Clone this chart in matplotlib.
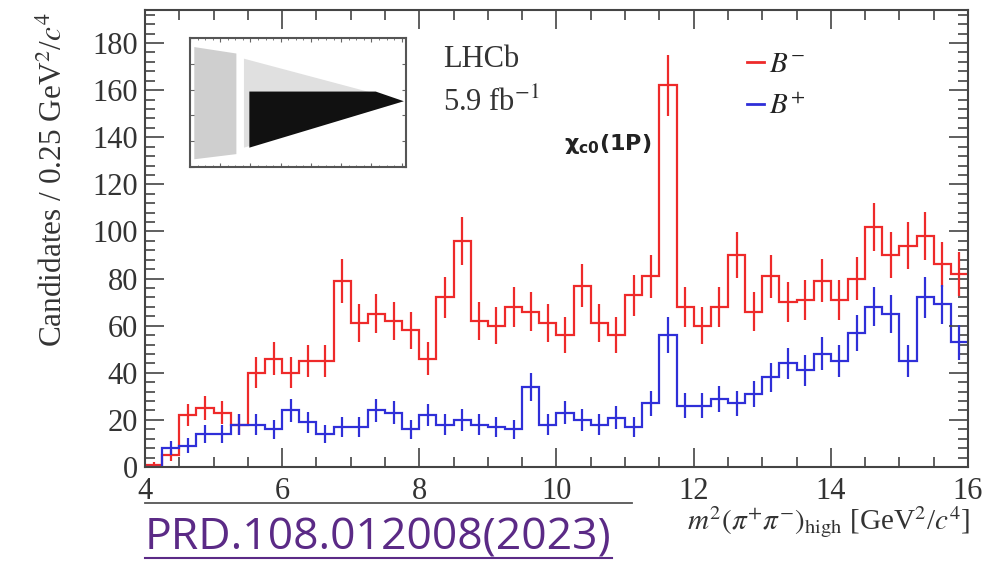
import numpy as np
import matplotlib
matplotlib.use('Agg')
import matplotlib.pyplot as plt
from matplotlib.lines import Line2D
from matplotlib.ticker import MultipleLocator

# m^2(pi+pi-)_high binning: 48 bins of 0.25 GeV^2/c^4 from 4 to 16
bin_edges = np.linspace(4.0, 16.0, 49)

# B- candidates per bin
b_minus = [1, 5, 22, 25, 23, 18, 40, 46, 40, 45, 45, 79, 61, 65, 62, 58,
           46, 72, 96, 62, 60, 68, 66, 61, 56, 77, 61, 56, 73, 81, 162, 68,
           60, 68, 90, 66, 81, 70, 71, 79, 71, 80, 102, 90, 94, 98, 86, 82]
b_minus_err = [1, 2.4, 4.8, 5.1, 4.9, 4.3, 6.5, 7, 6.5, 6.9, 6.9, 9.2, 8, 8.3, 8.1, 7.8,
               7, 8.7, 10.2, 8.1, 7.9, 8.4, 8.3, 8, 7.7, 9, 8, 7.7, 8.7, 9.2, 13, 8.4,
               7.9, 8.4, 9.7, 8.3, 9.2, 8.6, 8.6, 9.1, 8.6, 9.1, 10.3, 9.7, 9.9, 10.1, 9.5, 9.3]

# B+ candidates per bin
b_plus = [0, 8, 9, 14, 14, 18, 18, 16, 24, 19, 14, 17, 17, 24, 23, 16,
          22, 18, 20, 18, 17, 16, 34, 18, 23, 20, 18, 21, 17, 27, 56, 26,
          26, 29, 27, 31, 38, 44, 41, 48, 45, 57, 68, 65, 45, 72, 69, 53]
b_plus_err = [0, 3, 3.1, 3.8, 3.8, 4.3, 4.3, 4.1, 5, 4.5, 3.8, 4.2, 4.2, 5, 4.9, 4.1,
              4.8, 4.3, 4.6, 4.3, 4.2, 4.1, 5.9, 4.3, 4.9, 4.6, 4.3, 4.7, 4.2, 5.3, 7.6, 5.2,
              5.2, 5.5, 5.3, 5.7, 6.3, 6.7, 6.5, 7, 6.8, 7.6, 8.3, 8.2, 6.8, 8.6, 8.4, 7.4]

red = '#ee2a2a'
blue = '#2f2fd8'
frame = '#444444'

plt.rcParams['font.family'] = ['Liberation Serif', 'DejaVu Serif']
plt.rcParams['mathtext.fontset'] = 'stix'

fig = plt.figure(figsize=(9.94, 5.61), dpi=100)
ax = fig.add_axes([0.1459, 0.1676, 0.8279, 0.8144])

centers = 0.5 * (bin_edges[1:] + bin_edges[:-1])
ax.stairs(b_minus, bin_edges, color=red, lw=1.6, baseline=None)
ax.errorbar(centers, b_minus, yerr=b_minus_err, fmt='none', ecolor=red, elinewidth=1.6)
ax.stairs(b_plus, bin_edges, color=blue, lw=1.6, baseline=None)
ax.errorbar(centers, b_plus, yerr=b_plus_err, fmt='none', ecolor=blue, elinewidth=1.6)

ax.set_xlim(4, 16)
ax.set_ylim(0, 194)
ax.xaxis.set_major_locator(MultipleLocator(2))
ax.xaxis.set_minor_locator(MultipleLocator(0.5))
ax.yaxis.set_major_locator(MultipleLocator(20))
ax.yaxis.set_minor_locator(MultipleLocator(4))
ax.tick_params(which='both', direction='in', top=True, right=True, color=frame,
               labelsize=22, labelcolor='#333333', width=1.2)
ax.tick_params(which='major', length=14)
ax.tick_params(which='minor', length=7)
ax.tick_params(axis='y', pad=5)
ax.tick_params(axis='x', pad=7)
for s in ax.spines.values():
    s.set_color(frame)
    s.set_linewidth(1.5)

ax.set_ylabel('Candidates / 0.25 GeV$^2$/$c^4$', fontsize=22.5, color='#333333', loc='top')
ax.yaxis.set_label_coords(-0.093, 0.995)
ax.text(1.003, -0.122, r'$m^2(\pi^{+}\pi^{-})_{\rm high}$ [GeV$^2$/$c^4$]',
        transform=ax.transAxes, ha='right', va='center', fontsize=21, color='#333333')

ax.text(8.35, 179, 'LHCb', fontsize=22, color='#333333', va='top')
ax.text(8.35, 161, '5.9 fb$^{-1}$', fontsize=22, color='#333333', va='top')

ax.text(10.75, 137, r'$\mathbf{\chi}_{\mathbf{c0}}$(1P)', fontsize=16, fontweight='bold',
        family='DejaVu Sans', math_fontfamily='dejavusans', ha='center', va='center',
        color='#222222')

handles = [Line2D([], [], color=red, lw=2), Line2D([], [], color=blue, lw=2)]
ax.legend(handles, ['$B^{-}$', '$B^{+}$'], loc='upper left', bbox_to_anchor=(0.71, 0.947),
          frameon=False, handlelength=0.6, handletextpad=0.15, fontsize=21,
          labelspacing=0.55, labelcolor='#222222', borderaxespad=0.2)

# inset Dalitz plot thumbnail
ins = fig.add_axes([0.1911, 0.7023, 0.2173, 0.2299])
ins.set_xlim(0, 1)
ins.set_ylim(0, 1)
ins.fill([0.02, 0.02, 0.215, 0.215], [0.06, 0.93, 0.88, 0.10], color='#cfcfcf', lw=0)
ins.fill([0.25, 0.25, 0.99], [0.15, 0.84, 0.51], color='#e0e0e0', lw=0)
ins.fill([0.275, 0.275, 0.86, 0.99], [0.15, 0.585, 0.585, 0.51], color='#111111', lw=0)
ins.xaxis.set_major_locator(MultipleLocator(0.14))
ins.yaxis.set_major_locator(MultipleLocator(0.2))
ins.xaxis.set_minor_locator(MultipleLocator(0.035))
ins.tick_params(which='both', direction='in', top=True, right=True, labelbottom=False,
                labelleft=False, color='#666666', length=3)
ins.tick_params(which='minor', length=1.5)
for s in ins.spines.values():
    s.set_color('#555555')
    s.set_linewidth(1.5)

# reference line and link text below the axis
fig.add_artist(Line2D([145 / 994, 632 / 994], [1 - 503 / 561, 1 - 503 / 561],
                      color='#555555', lw=1.3))
prd = fig.text(145 / 994, 1 - 538 / 561, 'PRD.108.012008(2023)', fontsize=32,
               family='Open Sans', color='#5b2a86', ha='left', va='center')
fig.canvas.draw()
bb = prd.get_window_extent().transformed(fig.transFigure.inverted())
fig.add_artist(Line2D([bb.x0, bb.x1], [bb.y0 + 0.004, bb.y0 + 0.004], color='#5b2a86', lw=1.5))

fig.savefig('out.png', dpi=100)
